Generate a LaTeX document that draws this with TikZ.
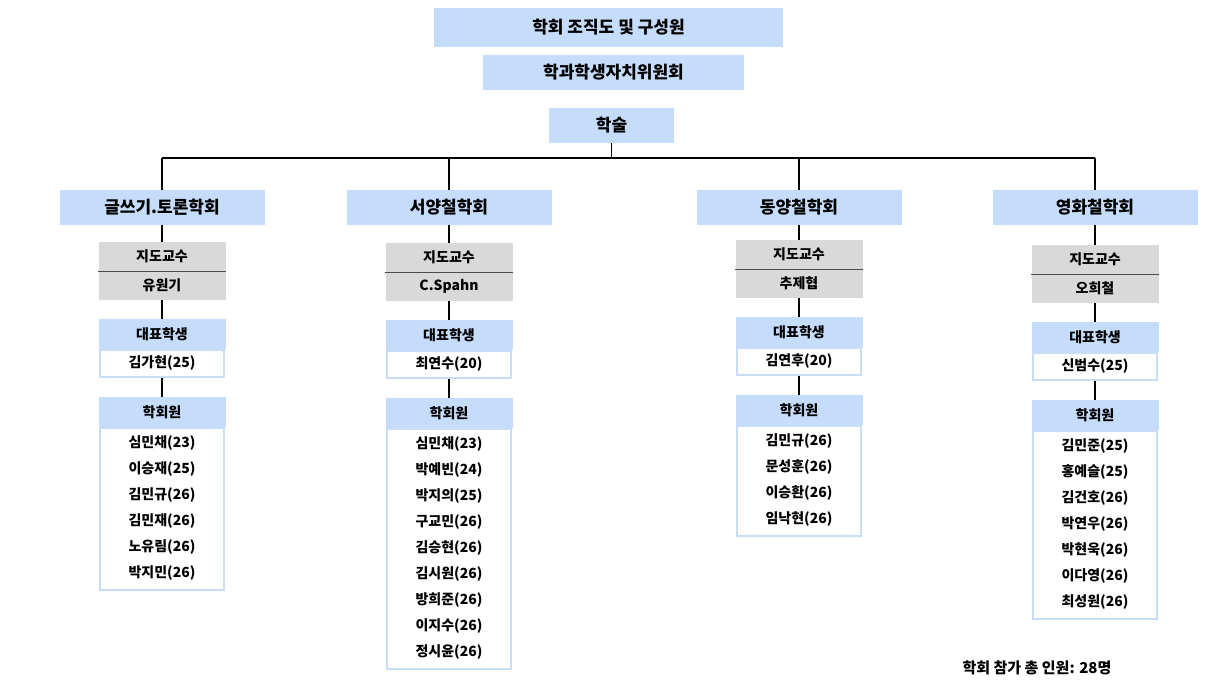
\documentclass[tikz,border=0pt]{standalone}
\usepackage{fontspec}
\setmainfont{Noto Sans CJK KR}
\usetikzlibrary{positioning}
\definecolor{headblue}{HTML}{C5DDFB}
\definecolor{edgeblue}{HTML}{C9DDF7}
\definecolor{profgray}{HTML}{D9D9D9}
\tikzset{
  every node/.style={font=\bfseries, inner sep=0pt},
  top box/.style={fill=headblue, minimum height=35, font=\bfseries\fontsize{17}{20}\selectfont},
  dept box/.style={fill=headblue, minimum width=205, minimum height=35, font=\bfseries\fontsize{17}{20}\selectfont},
  prof box/.style={fill=profgray, minimum width=127, minimum height=29, font=\bfseries\fontsize{14}{17}\selectfont},
  head box/.style={fill=headblue, minimum width=127, minimum height=30, font=\bfseries\fontsize{14}{17}\selectfont},
  body box/.style={fill=white, draw=edgeblue, line width=1.5pt, minimum width=124},
  member/.style={font=\bfseries\fontsize{14}{17}\selectfont},
  link/.style={line width=1.8pt}
}
\begin{document}
\begin{tikzpicture}[x=1pt, y=-1pt]
\useasboundingbox (0,0) rectangle (1208,685);

\node [top box, minimum width=349, minimum height=39] (title) at (608.5,27.5) {학회 조직도 및 구성원};
\node [top box, minimum width=261] (council) at (613.5,72.5) {학과학생자치위원회};
\node [top box, minimum width=125] (hak) at (611.5,125.5) {학술};

% clubs
\foreach \c/\cx/\t/\dept/\prof/\rep/\n/\names in {
  1/162/242/글쓰기.토론학회/유원기/김가현(25)/6/{심민채(23),이승재(25),김민규(26),김민재(26),노유림(26),박지민(26)},
  2/449/243/서양철학회/C.Spahn/최연수(20)/9/{심민채(23),박예빈(24),박지의(25),구교민(26),김승현(26),김시원(26),방희준(26),이지수(26),정시윤(26)},
  3/799/240/동양철학회/추제협/김연후(20)/4/{김민규(26),문성훈(26),이승환(26),임낙현(26)},
  4/1095/245/영화철학회/오희철/신범수(25)/7/{김민준(25),홍예슬(25),김건호(26),박연우(26),박현욱(26),이다영(26),최성원(26)}}
{
  \node [dept box] (dept-\c) at (\cx,207.5) {\dept};
  \node [prof box] (profh-\c) at (\cx,{\t+14.5}) {지도교수};
  \node [prof box] (profn-\c) at (\cx,{\t+43.5}) {\prof};
  \draw [line width=0.8pt, black!70] (profh-\c.south west) -- (profh-\c.south east);
  \node [head box] (reph-\c) at (\cx,{\t+92}) {대표학생};
  \node [body box, minimum height=27, anchor=north] (repn-\c) at (reph-\c.south) {};
  \node [member] at (repn-\c) {\rep};
  \node [head box] (memh-\c) at (\cx,{\t+170}) {학회원};
  \node [body box, minimum height={\n*26+6}, anchor=north] (memb-\c) at (memh-\c.south) {};
  \foreach \nm [count=\k] in \names
    \node [member] (mem-\c-\k) at (\cx,{\t+201+(\k-1)*26}) {\nm};
  \draw [link] (dept-\c) -- (profh-\c);
  \draw [link] (profn-\c) -- (reph-\c);
  \draw [link] (repn-\c) -- (memh-\c);
}

\path (dept-1) ++(0,-49.5) coordinate (bus-l);
\path (dept-4) ++(0,-49.5) coordinate (bus-r);
\draw [link] (bus-l) -- (bus-r);
\draw [link] (hak) -- (hak |- bus-l);
\foreach \c in {1,...,4}
  \draw [link] (dept-\c) -- (dept-\c |- bus-l);

\node [member, font=\bfseries\fontsize{15}{18}\selectfont] (total) at (1037,668) {학회 참가 총 인원: 28명};
\end{tikzpicture}
\end{document}
